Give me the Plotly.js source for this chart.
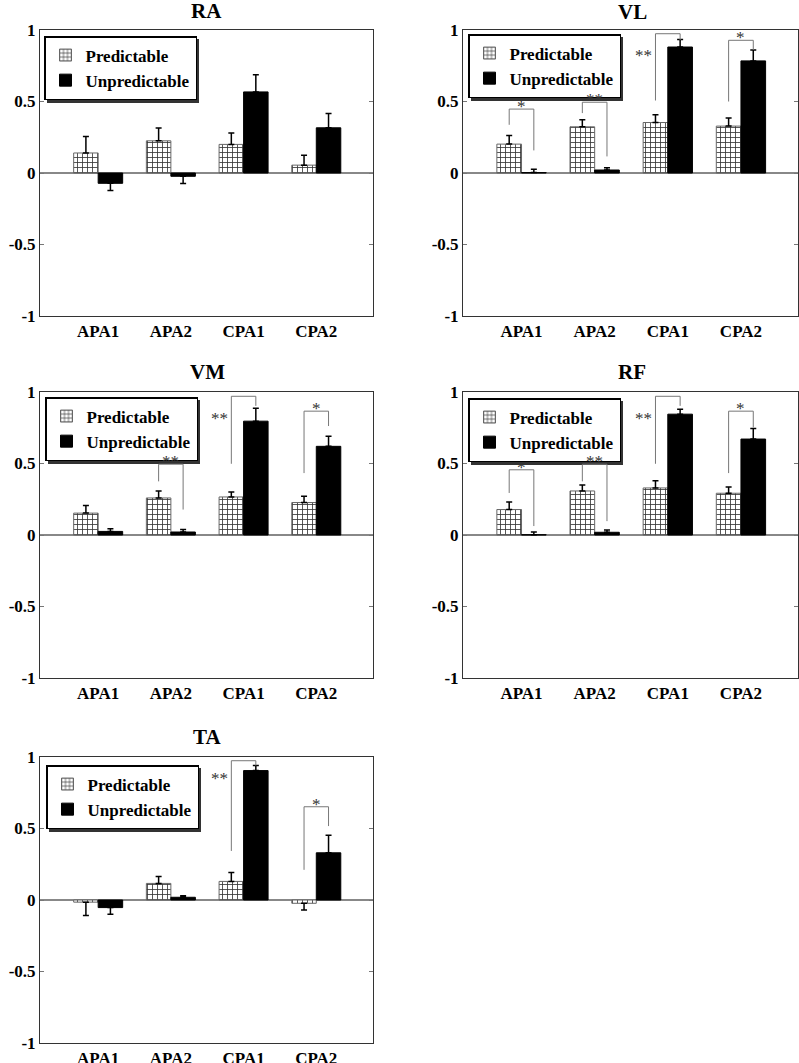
<!DOCTYPE html>
<html><head><meta charset="utf-8">
<script src="https://cdn.plot.ly/plotly-3.0.1.min.js"></script>
<style>html,body{margin:0;padding:0;background:#fff}</style>
</head><body><div id="chart" style="width:799px;height:1063px"></div>
<script>
// ---------- DATA ----------
const categories = ['APA1', 'APA2', 'CPA1', 'CPA2'];
const seriesNames = ['Predictable', 'Unpredictable'];
const yTickVals = [-1, -0.5, 0, 0.5, 1];
const yTickText = ['-1', '-0.5', '0', '0.5', '1'];

const predRA = [0.14, 0.225, 0.20, 0.055];
const predErrRA = [0.115, 0.09, 0.08, 0.07];
const unpredRA = [-0.072, -0.023, 0.567, 0.316];
const unpredErrRA = [0.05, 0.05, 0.12, 0.10];

const predVL = [0.202, 0.323, 0.353, 0.328];
const predErrVL = [0.06, 0.05, 0.054, 0.056];
const unpredVL = [0.003, 0.021, 0.881, 0.784];
const unpredErrVL = [0.023, 0.016, 0.052, 0.076];

const predVM = [0.153, 0.259, 0.266, 0.227];
const predErrVM = [0.053, 0.049, 0.034, 0.044];
const unpredVM = [0.025, 0.021, 0.796, 0.62];
const unpredErrVM = [0.019, 0.018, 0.091, 0.07];

const predRF = [0.178, 0.308, 0.329, 0.292];
const predErrRF = [0.053, 0.042, 0.051, 0.044];
const unpredRF = [0.002, 0.019, 0.845, 0.671];
const unpredErrRF = [0.019, 0.016, 0.035, 0.074];

const predTA = [-0.015, 0.116, 0.13, -0.023];
const predErrTA = [0.094, 0.049, 0.063, 0.047];
const unpredTA = [-0.053, 0.019, 0.905, 0.33];
const unpredErrTA = [0.047, 0.011, 0.035, 0.122];

// significance brackets: [categoryIndex, bracketTop, leftLegEnd, rightLegEnd, label, labelSide, labelY]
const bracketsRA = [];
const bracketsVL = [
  [0, 0.447, 0.337, 0.158, '*', 'top'],
  [1, 0.495, 0.419, 0.116, '**', 'top'],
  [2, 0.974, 0.507, 0.93, '**', 'left', 0.85],
  [3, 0.928, 0.50, 0.86, '*', 'top']
];
const bracketsVM = [
  [1, 0.495, 0.375, 0.178, '**', 'top'],
  [2, 0.97, 0.498, 0.903, '**', 'left', 0.845],
  [3, 0.866, 0.433, 0.762, '*', 'top']
];
const bracketsRF = [
  [0, 0.456, 0.294, 0.0625, '*', 'top'],
  [1, 0.495, 0.375, 0.097, '**', 'top'],
  [2, 0.97, 0.498, 0.903, '**', 'left', 0.845],
  [3, 0.866, 0.433, 0.752, '*', 'top']
];
const bracketsTA = [
  [2, 0.974, 0.343, 0.94, '**', 'left', 0.88],
  [3, 0.652, 0.211, 0.517, '*', 'top']
];

// ---------- LAYOUT ----------
const W = 799, H = 1063;
const FONT = 'Liberation Serif';
const BARGAP = 0.326;
const HALF = (1 - BARGAP) / 4; // offset of each bar centre from category centre
const LEG_W = 152, LEG_H = 64, SHADOW = 3; // legend box size (px) for its drop shadow

const panels = [
  {name: 'RA', pred: predRA, pe: predErrRA, unpred: unpredRA, ue: unpredErrRA, br: bracketsRA, box: [40, 30, 373, 316], title: [206, 11], leg: [44, 36]},
  {name: 'VL', pred: predVL, pe: predErrVL, unpred: unpredVL, ue: unpredErrVL, br: bracketsVL, box: [463, 30, 798, 316], title: [632, 12], leg: [468, 34]},
  {name: 'VM', pred: predVM, pe: predErrVM, unpred: unpredVM, ue: unpredErrVM, br: bracketsVM, box: [40, 392, 373, 678], title: [207, 372], leg: [45, 397]},
  {name: 'RF', pred: predRF, pe: predErrRF, unpred: unpredRF, ue: unpredErrRF, br: bracketsRF, box: [463, 392, 798, 678], title: [632, 372], leg: [468, 398]},
  {name: 'TA', pred: predTA, pe: predErrTA, unpred: unpredTA, ue: unpredErrTA, br: bracketsTA, box: [40, 757, 373, 1043], title: [207, 737], leg: [46, 765]}
];

const px = v => v / W;
const py = v => 1 - v / H;
const plus = (vals, errs) => vals.map((v, i) => v >= 0 ? errs[i] : 0);
const minus = (vals, errs) => vals.map((v, i) => v < 0 ? errs[i] : 0);

const data = [];
const layout = {
  width: W, height: H,
  margin: {l: 0, r: 0, t: 0, b: 0},
  paper_bgcolor: '#fff', plot_bgcolor: '#fff',
  barmode: 'group', bargap: BARGAP, bargroupgap: 0,
  font: {family: FONT, color: '#000'},
  annotations: [], shapes: []
};

panels.forEach((p, i) => {
  const k = i === 0 ? '' : String(i + 1);
  const xa = 'x' + k, ya = 'y' + k, lg = 'legend' + k;
  const errStyle = {type: 'data', symmetric: false, color: '#000', thickness: 1.5, width: 3};
  data.push({
    type: 'bar', name: seriesNames[0], x: categories, y: p.pred, xaxis: xa, yaxis: ya, legend: lg,
    marker: {color: '#fff', line: {color: '#666', width: 1},
      pattern: {shape: '+', fgcolor: '#333', bgcolor: '#fff', size: 5, solidity: 0.3}},
    error_y: Object.assign({array: plus(p.pred, p.pe), arrayminus: minus(p.pred, p.pe)}, errStyle)
  });
  data.push({
    type: 'bar', name: seriesNames[1], x: categories, y: p.unpred, xaxis: xa, yaxis: ya, legend: lg,
    marker: {color: '#000', line: {color: '#000', width: 1}},
    error_y: Object.assign({array: plus(p.unpred, p.ue), arrayminus: minus(p.unpred, p.ue)}, errStyle)
  });
  const [x0, y0, x1, y1] = p.box;
  layout['xaxis' + k] = {
    domain: [px(x0), px(x1)], anchor: ya, type: 'category', range: [-0.8, 3.78],
    showline: true, mirror: true, linecolor: '#333', linewidth: 1, ticks: '', showgrid: false,
    zeroline: false, automargin: false, fixedrange: true,
    tickfont: {family: FONT, size: 17, weight: 'bold', color: '#000'}
  };
  layout['yaxis' + k] = {
    domain: [py(y1), py(y0)], anchor: xa, range: [-1, 1],
    tickvals: yTickVals, ticktext: yTickText,
    ticks: 'inside', ticklen: 4, tickcolor: '#777', tickwidth: 1,
    showline: true, mirror: 'ticks', linecolor: '#333', linewidth: 1,
    showgrid: false, zeroline: true, zerolinecolor: '#888', zerolinewidth: 1.5,
    automargin: false, fixedrange: true,
    tickfont: {family: FONT, size: 17, weight: 'bold', color: '#000'}
  };
  layout[lg] = {
    x: px(p.leg[0]), y: py(p.leg[1]), xanchor: 'left', yanchor: 'top',
    xref: 'paper', yref: 'paper',
    bgcolor: '#fff', bordercolor: '#000', borderwidth: 1.5,
    font: {family: FONT, size: 17, weight: 'bold', color: '#000'},
    tracegroupgap: 0, traceorder: 'normal'
  };
  // drop shadow of the legend box: right and bottom strips
  const L = p.leg[0], T = p.leg[1];
  const shadow = {type: 'rect', xref: 'paper', yref: 'paper', fillcolor: '#333', line: {width: 0}, layer: 'above'};
  layout.shapes.push(Object.assign({}, shadow, {
    x0: px(L + LEG_W), x1: px(L + LEG_W + SHADOW), y0: py(T + LEG_H + SHADOW), y1: py(T + SHADOW)}));
  layout.shapes.push(Object.assign({}, shadow, {
    x0: px(L + SHADOW), x1: px(L + LEG_W + SHADOW), y0: py(T + LEG_H + SHADOW), y1: py(T + LEG_H)}));
  layout.annotations.push({
    xref: 'paper', yref: 'paper', x: px(p.title[0]), y: py(p.title[1]),
    xanchor: 'center', yanchor: 'middle', showarrow: false, text: p.name,
    font: {family: FONT, size: 21, weight: 'bold', color: '#000'}
  });
  p.br.forEach(b => {
    const [cat, top, lEnd, rEnd, label, side, labelY] = b;
    const lx = cat - HALF, rx = cat + HALF;
    const line = {color: '#777', width: 1};
    layout.shapes.push({type: 'line', xref: xa, yref: ya, x0: lx, x1: lx, y0: lEnd, y1: top, line});
    layout.shapes.push({type: 'line', xref: xa, yref: ya, x0: lx, x1: rx, y0: top, y1: top, line});
    layout.shapes.push({type: 'line', xref: xa, yref: ya, x0: rx, x1: rx, y0: rEnd, y1: top, line});
    if (side === 'left') {
      layout.annotations.push({xref: xa, yref: ya, x: lx, y: labelY, xanchor: 'right', yanchor: 'middle',
        xshift: -1, yshift: -4, showarrow: false, text: label, font: {family: FONT, size: 17, color: '#333'}});
    } else {
      layout.annotations.push({xref: xa, yref: ya, x: cat, y: top, xanchor: 'center', yanchor: 'top',
        yshift: 14, showarrow: false, text: label, font: {family: FONT, size: 17, color: '#333'}});
    }
  });
});

Plotly.newPlot('chart', data, layout, {displayModeBar: false});
</script></body></html>
